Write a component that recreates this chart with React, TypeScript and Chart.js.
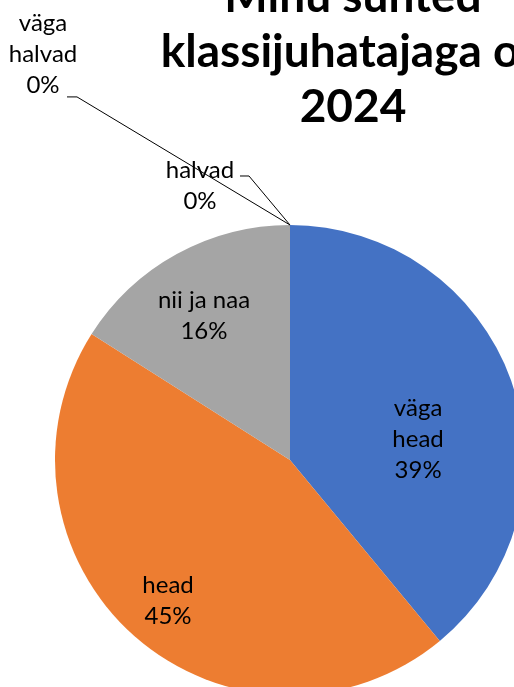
import React, { useEffect, useRef } from "react";
import { Chart, registerables } from "chart.js";

Chart.register(...registerables);

const categories = ["väga head", "head", "nii ja naa", "halvad", "väga halvad"];
const values = [39, 45, 16, 0, 0];
const percentLabels = ["39%", "45%", "16%", "0%", "0%"];
const titleLines = ["Minu suhted", "klassijuhatajaga on", "2024"];

const colors = ["#4472C4", "#ED7D31", "#A5A5A5", "#FFC000", "#5B9BD5"];

// label layout (relative to pie centre, in units of radius), and text lines
const labelLines = [
  ["väga", "head"],
  ["head"],
  ["nii ja naa"],
  ["halvad"],
  ["väga", "halvad"],
];
const labelPos = [
  [0.545, -0.089],
  [-0.519, 0.6],
  [-0.366, -0.613],
  [-0.383, -1.166],
  [-1.051, -1.728],
];
// leader elbows relative to label centre (px): [elbowX, elbowY, endX]
const leaders: (number[] | null)[] = [null, null, null, [49, -10, 40], [34, 43, 24]];

const W = 560;
const H = 720;

const overlayPlugin = {
  id: "overlay",
  afterDatasetsDraw(chart: any) {
    const ctx = chart.ctx;
    const meta = chart.getDatasetMeta(0);
    ctx.save();
    // data labels
    meta.data.forEach((arc: any, i: number) => {
      const p = arc.getProps(["x", "y", "outerRadius", "startAngle", "endAngle"], true);
      const R = p.outerRadius;
      const cx = p.x + labelPos[i][0] * R;
      const cy = p.y + labelPos[i][1] * R;
      const lines = [...labelLines[i], percentLabels[i]];
      ctx.fillStyle = "#000";
      ctx.font = "24px Lato";
      ctx.textAlign = "center";
      ctx.textBaseline = "middle";
      const lh = 31;
      lines.forEach((t, k) => {
        ctx.fillText(t, cx, cy + (k - (lines.length - 1) / 2) * lh);
      });
      const ld = leaders[i];
      if (ld) {
        const a = p.startAngle;
        const ax = p.x + Math.cos(a) * R;
        const ay = p.y + Math.sin(a) * R;
        ctx.strokeStyle = "#000";
        ctx.lineWidth = 1;
        ctx.beginPath();
        ctx.moveTo(cx + ld[2], cy + ld[1]);
        ctx.lineTo(cx + ld[0], cy + ld[1]);
        ctx.lineTo(ax, ay);
        ctx.stroke();
      }
    });
    // title
    ctx.fillStyle = "#000";
    ctx.font = "bold 46px Lato";
    ctx.textAlign = "center";
    ctx.textBaseline = "alphabetic";
    titleLines.forEach((t, k) => {
      ctx.fillText(t, 353, 12 + k * 55);
    });
    ctx.restore();
  },
};

export default function App() {
  const ref = useRef<HTMLCanvasElement | null>(null);
  useEffect(() => {
    if (!ref.current) return;
    const chart = new Chart(ref.current, {
      type: "pie",
      data: {
        labels: categories,
        datasets: [
          {
            data: values,
            backgroundColor: colors,
            borderWidth: 0,
          },
        ],
      },
      options: {
        responsive: false,
        animation: false,
        layout: { padding: { left: 55, top: 225, right: W - 525, bottom: H - 695 } },
        plugins: {
          legend: { display: false },
          title: { display: false },
          tooltip: { enabled: false },
        },
      },
      plugins: [overlayPlugin],
    });
    return () => chart.destroy();
  }, []);
  return (
    <div
      style={{
        position: "fixed",
        left: 0,
        top: 0,
        width: 514,
        height: 687,
        overflow: "hidden",
        background: "#fff",
      }}
    >
      <canvas ref={ref} width={W} height={H} style={{ display: "block", width: W, height: H }} />
    </div>
  );
}
